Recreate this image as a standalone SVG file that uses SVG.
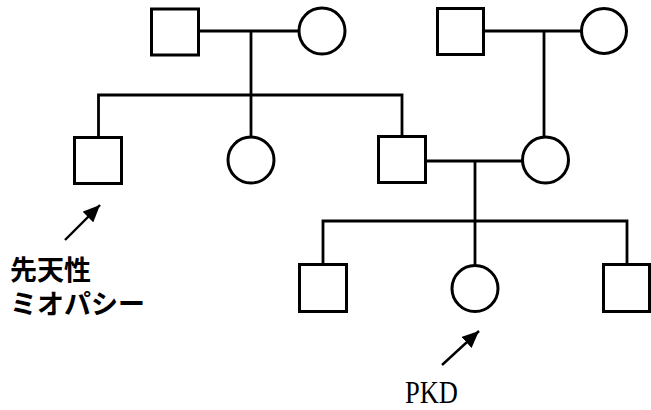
<svg xmlns="http://www.w3.org/2000/svg" width="651" height="410" viewBox="0 0 651 410">
<style>
.sym{fill:#fff;stroke:#000;stroke-width:3}
.ln{fill:none;stroke:#000;stroke-width:2.8}
.arr{fill:none;stroke:#000;stroke-width:2.4}
.jp{font-family:"Noto Sans CJK JP","Noto Sans",sans-serif;font-weight:bold;font-size:27px;fill:#000}
.lat{font-family:"Liberation Serif",serif;font-size:31px;fill:#000}
</style>
<defs>
<marker id="ah" markerUnits="userSpaceOnUse" markerWidth="19" markerHeight="15" refX="17" refY="7.5" orient="auto">
<path d="M0,0 L17,7.5 L0,15 Z" fill="#000"/>
</marker>
</defs>
<rect width="651" height="410" fill="#fff"/>
<g id="connectors">
<line class="ln" x1="199" y1="31" x2="298" y2="31"/>
<line class="ln" x1="251" y1="31" x2="251" y2="136"/>
<polyline class="ln" points="98.5,136 98.5,95 402,95 402,135"/>
<line class="ln" x1="484" y1="31" x2="581" y2="31"/>
<line class="ln" x1="544" y1="31" x2="544" y2="136"/>
<line class="ln" x1="427" y1="161" x2="522" y2="161"/>
<line class="ln" x1="475" y1="161" x2="475" y2="265"/>
<polyline class="ln" points="323,264 323,221 627,221 627,264"/>
<line class="arr" x1="65" y1="240" x2="100" y2="205" marker-end="url(#ah)"/>
<line class="arr" x1="442" y1="365" x2="479" y2="331" marker-end="url(#ah)"/>
</g>
<g id="gf1"><rect class="sym" x="151.5" y="9" width="47" height="46"/></g>
<g id="gm1"><circle class="sym" cx="322" cy="31" r="23"/></g>
<g id="gf2"><rect class="sym" x="437.5" y="8.5" width="46" height="46"/></g>
<g id="gm2"><circle class="sym" cx="604" cy="31" r="22.5"/></g>
<g id="son1"><rect class="sym" x="74.5" y="137.5" width="47" height="46"/></g>
<g id="dau1"><circle class="sym" cx="251" cy="160" r="23"/></g>
<g id="father"><rect class="sym" x="378.5" y="136.5" width="47" height="46"/></g>
<g id="mother"><circle class="sym" cx="545.5" cy="160" r="23"/></g>
<g id="child1"><rect class="sym" x="299.5" y="264.5" width="47" height="47"/></g>
<g id="proband"><circle class="sym" cx="475" cy="288.5" r="23"/></g>
<g id="child3"><rect class="sym" x="603.5" y="264.5" width="46" height="47"/></g>
<g id="label-myopathy">
<text class="jp" x="10" y="280">先天性</text>
<text class="jp" x="10" y="314">ミオパシー</text>
</g>
<g id="label-pkd"><text class="lat" x="405" y="403" textLength="53" lengthAdjust="spacingAndGlyphs">PKD</text></g>
</svg>
